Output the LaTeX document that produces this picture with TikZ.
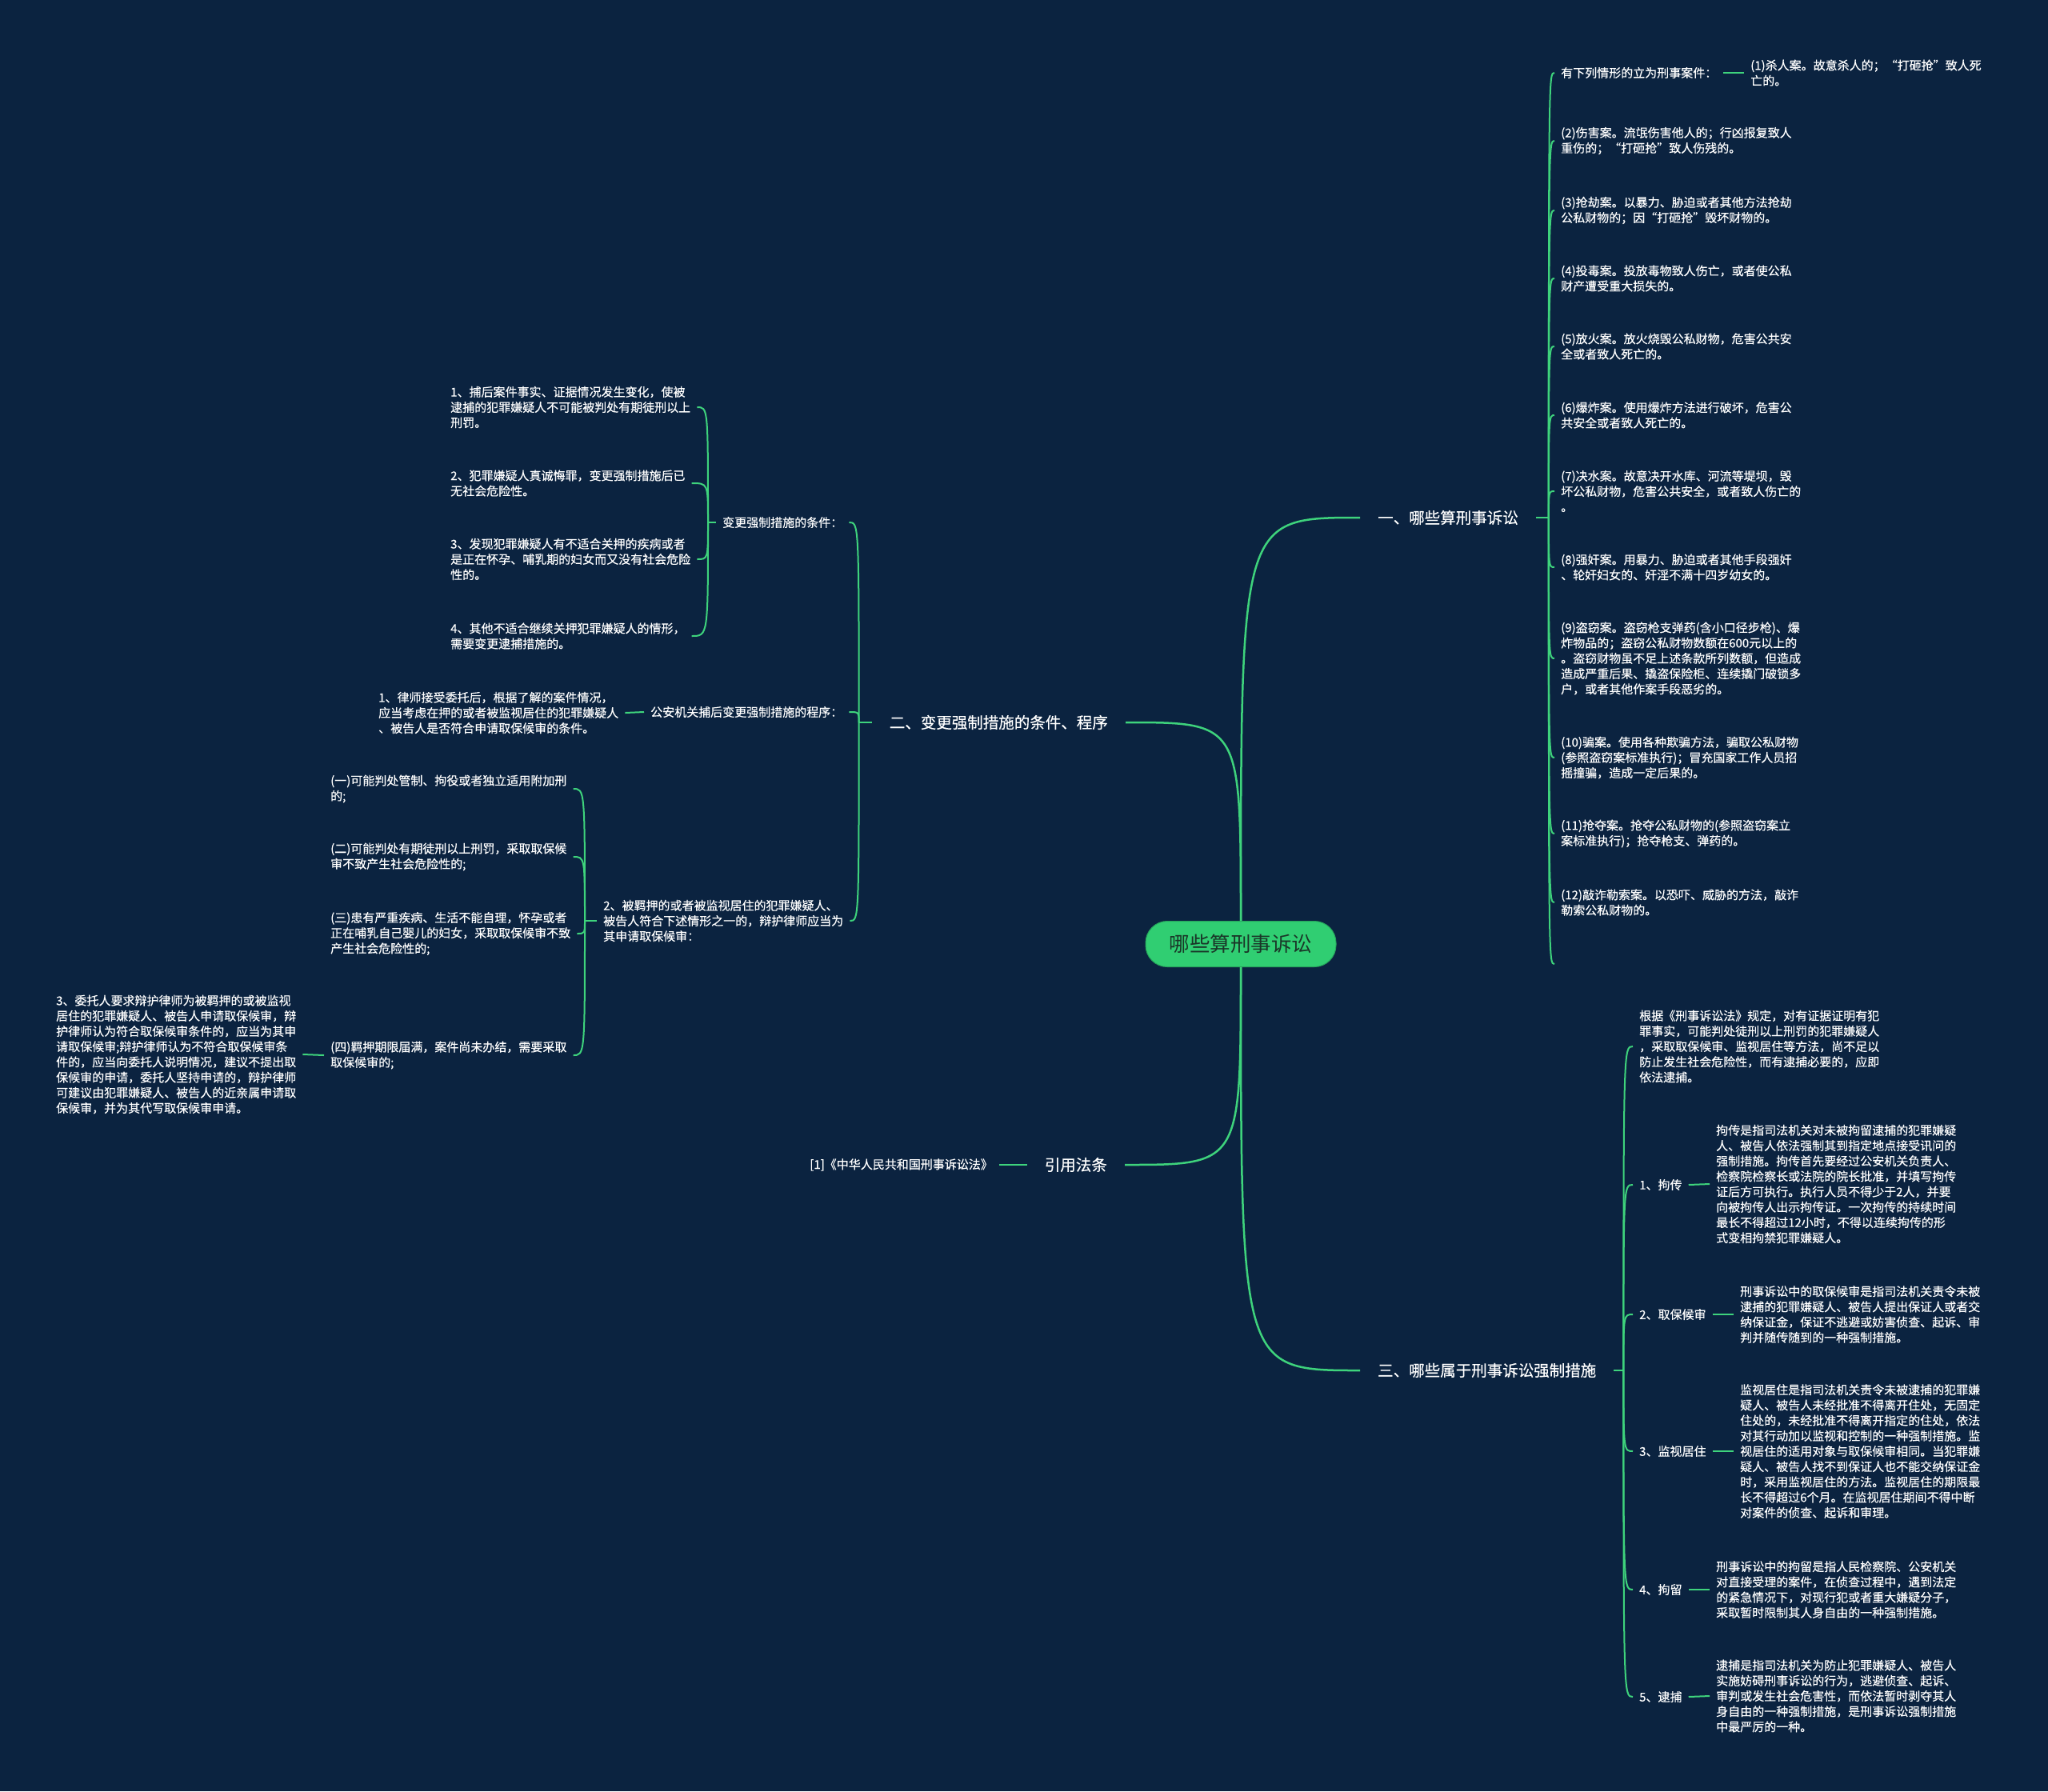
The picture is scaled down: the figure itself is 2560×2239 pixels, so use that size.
\documentclass[tikz,border=0pt]{standalone}
\usepackage{fontspec}
\setmainfont{Noto Sans CJK SC}
\newfontfamily\mapfont{Noto Sans CJK SC}[FakeBold=0.3]
\definecolor{bgnavy}{RGB}{11,35,64}
\definecolor{linegreen}{RGB}{62,211,124}
\definecolor{rootgreen}{RGB}{48,206,114}
\definecolor{roottext}{RGB}{26,54,40}

\begin{document}
\begin{tikzpicture}[x=1pt,y=-1pt,
  item/.style={text=white,font=\mapfont\fontsize{15}{19.2}\selectfont,align=left,inner xsep=8pt,inner ysep=2pt},
  branch/.style={text=white,font=\mapfont\fontsize{19.5}{24}\selectfont,inner xsep=22pt,inner ysep=2pt},
  link/.style={draw=linegreen,line width=2pt},
  mainlink/.style={draw=linegreen,line width=2.5pt}]
\fill[bgnavy] (0,0) rectangle (2560,2239);
\useasboundingbox (0,0) rectangle (2560,2239);

\node[fill=rootgreen,draw=rootgreen!80!black,line width=1pt,rounded corners=27pt,minimum width=238pt,minimum height=57pt,text=roottext,font=\fontsize{25.5}{30}\selectfont] (root) at (1551,1180) {哪些算刑事诉讼};

\node[branch,anchor=west] (sec1) at (1700,647) {一、哪些算刑事诉讼};
\node[branch,anchor=east] (sec2) at (1407,903) {二、变更强制措施的条件、程序};
\node[branch,anchor=east] (law) at (1406,1456) {引用法条};
\node[branch,anchor=west] (sec3) at (1700,1713) {三、哪些属于刑事诉讼强制措施};

\draw[mainlink] (root.north) .. controls (root.north |- sec1.west) .. (sec1.west);
\draw[mainlink] (root.north) .. controls (root.north |- sec2.east) .. (sec2.east);
\draw[mainlink] (root.south) .. controls (root.south |- law.east) .. (law.east);
\draw[mainlink] (root.south) .. controls (root.south |- sec3.west) .. (sec3.west);

% 一
\coordinate (j1) at ([xshift=16pt]sec1.east);
\draw[link] (sec1.east) -- (j1);
\node[item,anchor=west] (a0) at (1943,91) {有下列情形的立为刑事案件：};
\node[item,anchor=west] (a1) at (2180,91) {(1)杀人案。故意杀人的；“打砸抢”致人死\\亡的。};
\node[item,anchor=west] (a2) at (1943,176) {(2)伤害案。流氓伤害他人的；行凶报复致人\\重伤的；“打砸抢”致人伤残的。};
\node[item,anchor=west] (a3) at (1943,263) {(3)抢劫案。以暴力、胁迫或者其他方法抢劫\\公私财物的；因“打砸抢”毁坏财物的。};
\node[item,anchor=west] (a4) at (1943,348) {(4)投毒案。投放毒物致人伤亡，或者使公私\\财产遭受重大损失的。};
\node[item,anchor=west] (a5) at (1943,433) {(5)放火案。放火烧毁公私财物，危害公共安\\全或者致人死亡的。};
\node[item,anchor=west] (a6) at (1943,519) {(6)爆炸案。使用爆炸方法进行破坏，危害公\\共安全或者致人死亡的。};
\node[item,anchor=west] (a7) at (1943,614) {(7)决水案。故意决开水库、河流等堤坝，毁\\坏公私财物，危害公共安全，或者致人伤亡的\\。};
\node[item,anchor=west] (a8) at (1943,709) {(8)强奸案。用暴力、胁迫或者其他手段强奸\\、轮奸妇女的、奸淫不满十四岁幼女的。};
\node[item,anchor=west] (a9) at (1943,823) {(9)盗窃案。盗窃枪支弹药(含小口径步枪)、爆\\炸物品的；盗窃公私财物数额在600元以上的\\。盗窃财物虽不足上述条款所列数额，但造成\\造成严重后果、撬盗保险柜、连续撬门破锁多\\户，或者其他作案手段恶劣的。};
\node[item,anchor=west] (a10) at (1943,947) {(10)骗案。使用各种欺骗方法，骗取公私财物\\(参照盗窃案标准执行)；冒充国家工作人员招\\摇撞骗，造成一定后果的。};
\node[item,anchor=west] (a11) at (1943,1042) {(11)抢夺案。抢夺公私财物的(参照盗窃案立\\案标准执行)；抢夺枪支、弹药的。};
\node[item,anchor=west] (a12) at (1943,1128) {(12)敲诈勒索案。以恐吓、威胁的方法，敲诈\\勒索公私财物的。};
\node[item,anchor=west] (a13) at (1943,1205) {};
\foreach \n in {a0,a2,a3,a4,a5,a6,a7,a8,a9,a10,a11,a12,a13}
  \draw[link] (j1) .. controls (j1 |- \n.west) .. (\n.west);
\draw[link] (a0.east) -- (a1.west);

% 二
\coordinate (j2) at ([xshift=-16pt]sec2.west);
\draw[link] (sec2.west) -- (j2);
\node[item,anchor=west] (b1) at (895,653) {变更强制措施的条件：};
\node[item,anchor=west] (b2) at (805,890) {公安机关捕后变更强制措施的程序：};
\node[item,anchor=west] (b3) at (746,1151) {2、被羁押的或者被监视居住的犯罪嫌疑人、\\被告人符合下述情形之一的，辩护律师应当为\\其申请取保候审：};
\foreach \n in {b1,b2,b3}
  \draw[link] (j2) .. controls (j2 |- \n.east) .. (\n.east);

\coordinate (j3) at ([xshift=-10pt]b1.west);
\draw[link] (b1.west) -- (j3);
\node[item,anchor=west] (k1) at (555,509) {1、捕后案件事实、证据情况发生变化，使被\\逮捕的犯罪嫌疑人不可能被判处有期徒刑以上\\刑罚。};
\node[item,anchor=west] (k2) at (555,604) {2、犯罪嫌疑人真诚悔罪，变更强制措施后已\\无社会危险性。};
\node[item,anchor=west] (k3) at (555,699) {3、发现犯罪嫌疑人有不适合关押的疾病或者\\是正在怀孕、哺乳期的妇女而又没有社会危险\\性的。};
\node[item,anchor=west] (k4) at (555,795) {4、其他不适合继续关押犯罪嫌疑人的情形，\\需要变更逮捕措施的。};
\foreach \n in {k1,k2,k3,k4}
  \draw[link] (j3) .. controls (j3 |- \n.east) .. (\n.east);

\node[item,anchor=west] (m1) at (465,891) {1、律师接受委托后，根据了解的案件情况，\\应当考虑在押的或者被监视居住的犯罪嫌疑人\\、被告人是否符合申请取保候审的条件。};
\draw[link] (b2.west) -- (m1.east);

\coordinate (j4) at ([xshift=-15pt]b3.west);
\draw[link] (b3.west) -- (j4);
\node[item,anchor=west] (q1) at (405,986) {(一)可能判处管制、拘役或者独立适用附加刑\\的;};
\node[item,anchor=west] (q2) at (405,1071) {(二)可能判处有期徒刑以上刑罚，采取取保候\\审不致产生社会危险性的;};
\node[item,anchor=west] (q3) at (405,1167) {(三)患有严重疾病、生活不能自理，怀孕或者\\正在哺乳自己婴儿的妇女，采取取保候审不致\\产生社会危险性的;};
\node[item,anchor=west] (q4) at (405,1319) {(四)羁押期限届满，案件尚未办结，需要采取\\取保候审的;};
\foreach \n in {q1,q2,q3,q4}
  \draw[link] (j4) .. controls (j4 |- \n.east) .. (\n.east);

\node[item,anchor=west] (r1) at (62,1318) {3、委托人要求辩护律师为被羁押的或被监视\\居住的犯罪嫌疑人、被告人申请取保候审，辩\\护律师认为符合取保候审条件的，应当为其申\\请取保候审;辩护律师认为不符合取保候审条\\件的，应当向委托人说明情况，建议不提出取\\保候审的申请，委托人坚持申请的，辩护律师\\可建议由犯罪嫌疑人、被告人的近亲属申请取\\保候审，并为其代写取保候审申请。};
\draw[link] (q4.west) -- (r1.east);

% 引用法条
\node[item,anchor=east] (n1) at (1249,1456) {[1]《中华人民共和国刑事诉讼法》};
\draw[link] (law.west) -- (n1.east);

% 三
\coordinate (j5) at ([xshift=12pt]sec3.east);
\draw[link] (sec3.east) -- (j5);
\node[item,anchor=west] (d0) at (2041,1308) {根据《刑事诉讼法》规定，对有证据证明有犯\\罪事实，可能判处徒刑以上刑罚的犯罪嫌疑人\\，采取取保候审、监视居住等方法，尚不足以\\防止发生社会危险性，而有逮捕必要的，应即\\依法逮捕。};
\node[item,anchor=west] (d1) at (2041,1481) {1、拘传};
\node[item,anchor=west] (d2) at (2041,1643) {2、取保候审};
\node[item,anchor=west] (d3) at (2041,1814) {3、监视居住};
\node[item,anchor=west] (d4) at (2041,1987) {4、拘留};
\node[item,anchor=west] (d5) at (2041,2121) {5、逮捕};
\foreach \n in {d0,d1,d2,d3,d4,d5}
  \draw[link] (j5) .. controls (j5 |- \n.west) .. (\n.west);

\node[item,anchor=west] (e1) at (2137,1480) {拘传是指司法机关对未被拘留逮捕的犯罪嫌疑\\人、被告人依法强制其到指定地点接受讯问的\\强制措施。拘传首先要经过公安机关负责人、\\检察院检察长或法院的院长批准，并填写拘传\\证后方可执行。执行人员不得少于2人，并要\\向被拘传人出示拘传证。一次拘传的持续时间\\最长不得超过12小时，不得以连续拘传的形\\式变相拘禁犯罪嫌疑人。};
\node[item,anchor=west] (e2) at (2167,1643) {刑事诉讼中的取保候审是指司法机关责令未被\\逮捕的犯罪嫌疑人、被告人提出保证人或者交\\纳保证金，保证不逃避或妨害侦查、起诉、审\\判并随传随到的一种强制措施。};
\node[item,anchor=west] (e3) at (2167,1814) {监视居住是指司法机关责令未被逮捕的犯罪嫌\\疑人、被告人未经批准不得离开住处，无固定\\住处的，未经批准不得离开指定的住处，依法\\对其行动加以监视和控制的一种强制措施。监\\视居住的适用对象与取保候审相同。当犯罪嫌\\疑人、被告人找不到保证人也不能交纳保证金\\时，采用监视居住的方法。监视居住的期限最\\长不得超过6个月。在监视居住期间不得中断\\对案件的侦查、起诉和审理。};
\node[item,anchor=west] (e4) at (2137,1987) {刑事诉讼中的拘留是指人民检察院、公安机关\\对直接受理的案件，在侦查过程中，遇到法定\\的紧急情况下，对现行犯或者重大嫌疑分子，\\采取暂时限制其人身自由的一种强制措施。};
\node[item,anchor=west] (e5) at (2137,2120) {逮捕是指司法机关为防止犯罪嫌疑人、被告人\\实施妨碍刑事诉讼的行为，逃避侦查、起诉、\\审判或发生社会危害性，而依法暂时剥夺其人\\身自由的一种强制措施，是刑事诉讼强制措施\\中最严厉的一种。};
\foreach \n/\m in {d1/e1,d2/e2,d3/e3,d4/e4,d5/e5}
  \draw[link] (\n.east) -- (\m.west);
\end{tikzpicture}
\end{document}
